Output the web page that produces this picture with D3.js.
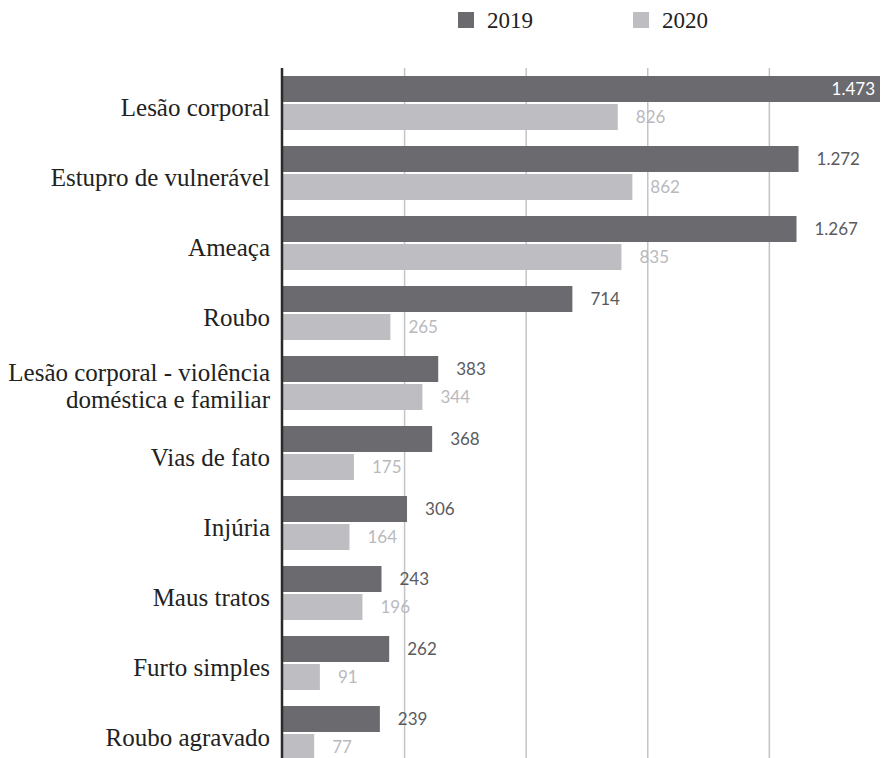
<!DOCTYPE html>
<html>
<head>
<meta charset="utf-8">
<script src="https://cdn.jsdelivr.net/npm/d3@7"></script>
<style>
  body { margin: 0; background: #fff; }
  .cat { font-family: "Liberation Serif", serif; font-size: 25px; fill: #222; }
  .val { font-family: "Lato", sans-serif; font-size: 17px; }
  .leg { font-family: "Liberation Serif", serif; font-size: 23px; fill: #222; }
</style>
</head>
<body>
<div id="chart"></div>
<script>
"use strict";

var categories = ["Lesão corporal", "Estupro de vulnerável", "Ameaça", "Roubo",
    "Lesão corporal - violência\ndoméstica e familiar", "Vias de fato", "Injúria",
    "Maus tratos", "Furto simples", "Roubo agravado"];
var series = ["2019", "2020"];
var values2019 = [1473, 1272, 1267, 714, 383, 368, 306, 243, 262, 239];
var values2020 = [826, 862, 835, 265, 344, 175, 164, 196, 91, 77];
var gridTicks = [300, 600, 900, 1200];

var colors = { "2019": "#6b6b6f", "2020": "#bebec2" };
var labelColors = { "2019": "#5a5a5e", "2020": "#b9b9bd" };

function renderMyChart() {
    var svg = d3.select("#chart").append("svg")
        .attr("width", 886)
        .attr("height", 758);

    var rows = categories.map(function (c, i) {
        return { cat: c, "2019": values2019[i], "2020": values2020[i] };
    });

    var x = d3.scaleLinear().domain([0, d3.max(values2019)]).range([283, 880]);
    var y = d3.scaleBand().domain(categories).range([76, 760])
        .paddingInner(16 / 70).paddingOuter(0);
    var ySub = d3.scaleBand().domain(series).range([0, y.bandwidth()])
        .paddingInner(2 / 28).paddingOuter(0);

    var fmt = d3.formatLocale({ decimal: ",", thousands: ".", grouping: [3], currency: ["", ""] }).format(",");

    // gridlines (behind bars)
    svg.append("g").selectAll("line")
        .data(gridTicks)
        .enter().append("line")
        .attr("x1", function (d) { return x(d); })
        .attr("x2", function (d) { return x(d); })
        .attr("y1", 68)
        .attr("y2", 758)
        .attr("stroke", "#c4c4c8")
        .attr("stroke-width", 1.5);

    var groups = svg.selectAll(".grp")
        .data(rows)
        .enter().append("g")
        .attr("class", "grp")
        .attr("transform", function (d) { return "translate(0," + y(d.cat) + ")"; });

    groups.selectAll("rect")
        .data(function (d) { return series.map(function (s) { return { s: s, v: d[s] }; }); })
        .enter().append("rect")
        .attr("x", x(0))
        .attr("y", function (d) { return ySub(d.s); })
        .attr("width", function (d) { return x(d.v) - x(0); })
        .attr("height", ySub.bandwidth())
        .attr("fill", function (d) { return colors[d.s]; });

    var maxV = d3.max(values2019);
    groups.selectAll(".val")
        .data(function (d) { return series.map(function (s) { return { s: s, v: d[s] }; }); })
        .enter().append("text")
        .attr("class", "val")
        .attr("x", function (d) { return d.v === maxV ? x(d.v) - 5 : x(d.v) + 18; })
        .attr("y", function (d) { return ySub(d.s) + ySub.bandwidth() / 2 + 6; })
        .attr("text-anchor", function (d) { return d.v === maxV ? "end" : "start"; })
        .attr("fill", function (d) { return d.v === maxV ? "#fff" : labelColors[d.s]; })
        .text(function (d) { return fmt(d.v); });

    // category labels
    groups.append("text")
        .attr("class", "cat")
        .attr("text-anchor", "end")
        .each(function (d) {
            var lines = d.cat.split("\n");
            var t = d3.select(this);
            lines.forEach(function (l, i) {
                t.append("tspan")
                    .attr("x", 270)
                    .attr("y", 40 - (lines.length - 1) * 15 + i * 27)
                    .text(l);
            });
        });

    // axis line
    svg.append("line")
        .attr("x1", 282).attr("x2", 282)
        .attr("y1", 68).attr("y2", 758)
        .attr("stroke", "#2a2a2a")
        .attr("stroke-width", 2.5);

    // legend
    var legX = { "2019": 458, "2020": 633 };
    var leg = svg.append("g").selectAll("g")
        .data(series)
        .enter().append("g")
        .attr("transform", function (d) { return "translate(" + legX[d] + ",12)"; });
    leg.append("rect")
        .attr("width", 16).attr("height", 16)
        .attr("fill", function (d) { return colors[d]; });
    leg.append("text")
        .attr("class", "leg")
        .attr("x", 29)
        .attr("y", 16)
        .text(function (d) { return d; });
}

renderMyChart();
</script>
</body>
</html>
